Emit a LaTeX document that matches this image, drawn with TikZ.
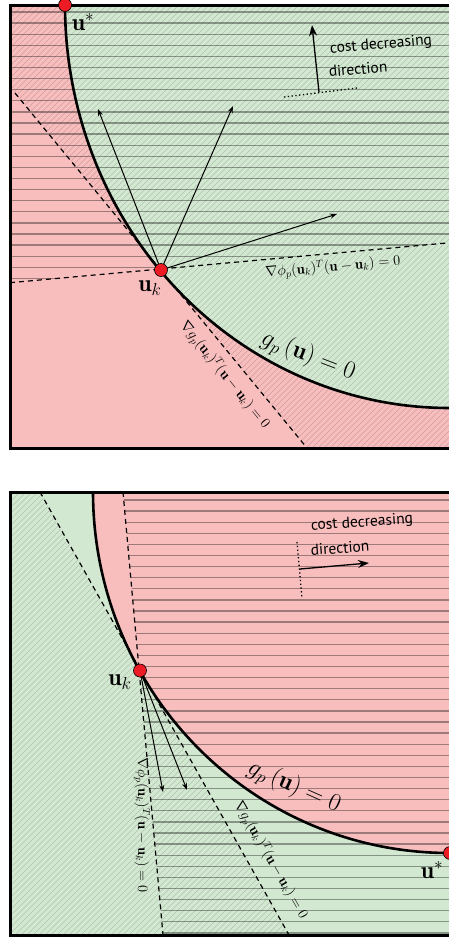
\documentclass[tikz,border=0pt]{standalone}
\usepackage{fontspec}
\newfontfamily\costfont{PT Sans}
\usetikzlibrary{arrows.meta}
\definecolor{pinkbg}{RGB}{248,190,190}
\definecolor{greenbg}{RGB}{211,232,209}
\definecolor{dotred}{RGB}{237,28,36}
\tikzset{
  hl/.style={draw=black, draw opacity=0.36, line width=1.3pt},
  dl/.style={draw=black, draw opacity=0.16, line width=0.45pt},
  tangent/.style={draw=black, line width=1.2pt, dash pattern=on 5pt off 4pt},
  boundary/.style={draw=black, line width=2.6pt},
  frameline/.style={draw=black, line width=3pt},
  dirarrow/.style={draw=black, line width=1pt, -{Stealth[length=7pt,width=5pt]}},
  costarrow/.style={draw=black, line width=1.3pt, -{Stealth[length=11pt,width=8pt]}},
  dotguide/.style={draw=black, line width=1.3pt, dash pattern=on 1.3pt off 2.5pt},
  ptdot/.style={circle, fill=dotred, draw=black, line width=0.6pt, minimum size=13pt, inner sep=0pt},
  costtext/.style={font=\costfont\fontsize{15.5}{18}\selectfont, inner sep=0pt},
  mathlbl/.style={font=\fontsize{14.5}{16}\selectfont, inner sep=0pt},
  bigmath/.style={font=\fontsize{24}{28}\selectfont, inner sep=0pt},
  ulbl/.style={font=\fontsize{24}{28}\selectfont, inner sep=0pt},
}
\begin{document}
\begin{tikzpicture}[x=1pt,y=-1pt]
\useasboundingbox (0,0) rectangle (449,940);
\fill[white] (0,0) rectangle (449,940);
\begin{scope}
\clip (0,0) rectangle (449,940);
% ================= TOP PANEL =================
\begin{scope}
  \clip (10,5) rectangle (452,448);
  \fill[pinkbg] (10,5) rectangle (452,448);
  \fill[greenbg] (449,5) -- plot[domain=180:90,samples=90] ({449+384*cos(\x)},{5+403*sin(\x)}) -- cycle;
  \begin{scope}
    \clip (-70,-10) -- (317,460) -- (460,460) -- (460,-10) -- cycle;
    \foreach \a in {-480,-474,...,470} \draw[dl] (\a,460) -- ++(480,-480);
  \end{scope}
  \begin{scope}
    \clip (0,-10) -- (0,283.7) -- (460,241.8) -- (460,-10) -- cycle;
    \foreach \y in {12,23.1,...,290} \draw[hl] (0,\y) -- (460,\y);
  \end{scope}
\end{scope}
\coordinate (ukT) at (161,270);
\coordinate (phiTa) at (10,282.7);
\coordinate (phiTb) at (449,242.8);
\coordinate (gTa) at (15,93);
\coordinate (gTb) at (307,448);
\draw[tangent] (phiTa) -- (phiTb);
\draw[tangent] (gTa) -- (gTb);
\coordinate (aT1) at (98,109);
\coordinate (aT2) at (233,106);
\coordinate (aT3) at (337,214);
\draw[dirarrow] (ukT) -- (aT1);
\draw[dirarrow] (ukT) -- (aT2);
\draw[dirarrow] (ukT) -- (aT3);
\draw[boundary] plot[domain=180:90,samples=90] ({449+384*cos(\x)},{5+403*sin(\x)});
% cost direction (top)
\coordinate (cTd1) at (284,97);
\coordinate (cTd2) at (357,88);
\coordinate (cTa) at (319,92);
\coordinate (cTb) at (312,25);
\draw[dotguide] (cTd1) -- (cTd2);
\draw[costarrow] (cTa) -- (cTb);
\node[costtext, rotate=5] (costT1) at (381,45) {cost decreasing};
\node[costtext, rotate=5] (costT2) at (358,69) {direction};
% labels (top)
\node[ulbl] (ustarTl) at (83,22) {$\mathbf{u}^*$};
\node[ulbl] (ukTl) at (150,288) {$\mathbf{u}_k$};
\node[mathlbl, rotate=5] (phiTl) at (333,267) {$\nabla\phi_p(\mathbf{u}_k)^T(\mathbf{u}-\mathbf{u}_k)=0$};
\node[mathlbl, rotate=-51] (gradgTl) at (225,375) {$\nabla g_p(\mathbf{u}_k)^T(\mathbf{u}-\mathbf{u}_k)=0$};
\node[bigmath, rotate=-21] (gTl) at (308,356) {$g_p\,(\mathbf{u})=0$};
\draw[frameline] (452,5) -- (10,5) -- (10,448) -- (452,448);
\node[ptdot] (ukTdot) at (ukT) {};
\node[ptdot] (ustarTdot) at (65,5) {};
% ================= BOTTOM PANEL =================
\begin{scope}
  \clip (10,492) rectangle (452,935);
  \fill[greenbg] (10,492) rectangle (452,935);
  \fill[pinkbg] (449,492) -- plot[domain=180:90,samples=90] ({449+356*cos(\x)},{492+361*sin(\x)}) -- cycle;
  \begin{scope}
    \clip (0,470) -- (27.6,470) -- (297.4,950) -- (0,950) -- cycle;
    \foreach \a in {-480,-474,...,470} \draw[dl] (\a,950) -- ++(480,-480);
  \end{scope}
  \begin{scope}
    \clip (121,470) -- (164.4,950) -- (460,950) -- (460,470) -- cycle;
    \foreach \y in {500,511.1,...,935} \draw[hl] (0,\y) -- (460,\y);
  \end{scope}
\end{scope}
\coordinate (ukB) at (140,670.5);
\coordinate (gBa) at (40,492);
\coordinate (gBb) at (289,935);
\coordinate (phiBa) at (123,492);
\coordinate (phiBb) at (163,935);
\draw[tangent] (gBa) -- (gBb);
\draw[tangent] (phiBa) -- (phiBb);
\coordinate (aB1) at (163,792);
\coordinate (aB2) at (187,790);
\draw[dirarrow] (ukB) -- (aB1);
\draw[dirarrow] (ukB) -- (aB2);
\draw[boundary] plot[domain=180:90,samples=90] ({449+356*cos(\x)},{492+361*sin(\x)});
% cost direction (bottom)
\coordinate (cBd1) at (297,542);
\coordinate (cBd2) at (302,598);
\coordinate (cBa) at (300,569);
\coordinate (cBb) at (369,563);
\draw[dotguide] (cBd1) -- (cBd2);
\draw[costarrow] (cBa) -- (cBb);
\node[costtext, rotate=4] (costB1) at (362,523) {cost decreasing};
\node[costtext, rotate=4] (costB2) at (340,548) {direction};
% labels (bottom)
\node[ulbl] (ukBl) at (120,682) {$\mathbf{u}_k$};
\node[ulbl] (ustarBl) at (432,870) {$\mathbf{u}^*$};
\node[mathlbl, rotate=-90] (phiBl) at (142,825) {$\nabla\phi_p(\mathbf{u}_k)^T(\mathbf{u}-\mathbf{u}_k)=0$};
\node[mathlbl, rotate=-60] (gradgBl) at (271,860) {$\nabla g_p(\mathbf{u}_k)^T(\mathbf{u}-\mathbf{u}_k)=0$};
\node[bigmath, rotate=-24] (gBl) at (294,787) {$g_p\,(\mathbf{u})=0$};
\draw[frameline] (452,492) -- (10,492) -- (10,935) -- (452,935);
\node[ptdot] (ukBdot) at (ukB) {};
\node[ptdot] (ustarBdot) at (450,853) {};
\end{scope}
\end{tikzpicture}
\end{document}
